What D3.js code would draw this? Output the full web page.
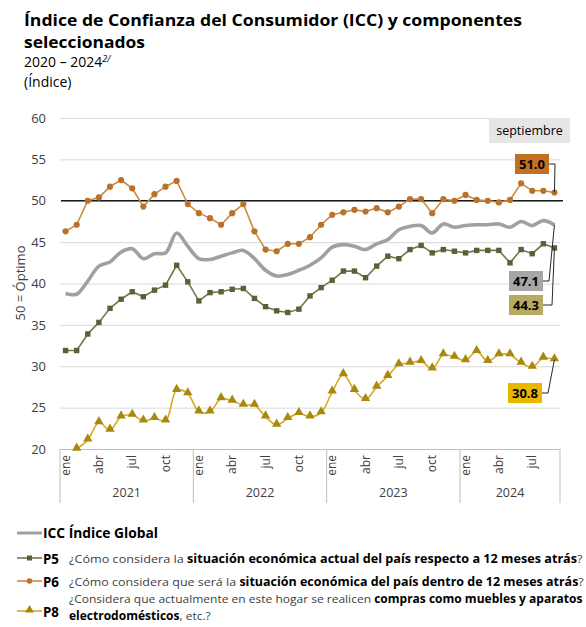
<!DOCTYPE html>
<meta charset="utf-8">
<script src="https://d3js.org/d3.v7.min.js"></script>
<style>
  body { margin: 0; background: #fff; }
  text { font-family: "Open Sans", "Noto Sans", sans-serif; }
</style>
<div id="chart"></div>
<script>
// data (monthly, ene 2021 - sep 2024)
var years = ["2021", "2022", "2023", "2024"]
var monthsInYear = [12, 12, 12, 9]
var monthNames = ["ene", "feb", "mar", "abr", "may", "jun", "jul", "ago", "sep", "oct", "nov", "dic"]
var shownMonths = ["ene", "abr", "jul", "oct"]
var yTicks = [20, 25, 30, 35, 40, 45, 50, 55, 60]

var icc = [38.8, 38.7, 40.3, 42.1, 42.6, 43.8, 44.2, 43.0, 43.6, 43.7, 46.1, 44.5,
           43.0, 42.9, 43.3, 43.7, 44.0, 43.0, 41.6, 40.9, 41.1, 41.6, 42.2, 43.1,
           44.4, 44.7, 44.5, 44.1, 44.8, 45.3, 46.5, 46.9, 47.0, 46.1, 47.2, 46.8,
           47.0, 47.1, 47.1, 47.2, 46.8, 47.5, 47.0, 47.6, 47.1]
var p5 = [31.9, 31.9, 33.9, 35.3, 37.0, 38.1, 39.0, 38.4, 39.2, 39.8, 42.2, 40.2,
          37.9, 38.9, 39.0, 39.3, 39.4, 38.2, 37.2, 36.7, 36.5, 36.9, 38.5, 39.5,
          40.4, 41.5, 41.5, 40.7, 42.1, 43.3, 43.0, 44.1, 44.6, 43.7, 44.1, 43.9,
          43.7, 44.0, 44.0, 44.0, 42.5, 44.1, 43.6, 44.8, 44.3]
var p6 = [46.3, 47.1, 50.0, 50.4, 51.7, 52.5, 51.5, 49.3, 50.8, 51.7, 52.4, 49.6,
          48.5, 47.9, 47.1, 48.5, 49.6, 46.3, 44.1, 43.9, 44.8, 44.8, 45.6, 47.1,
          48.3, 48.6, 48.9, 48.7, 49.1, 48.6, 49.3, 50.2, 50.2, 48.5, 50.2, 50.0,
          50.7, 50.1, 50.0, 49.8, 50.1, 52.1, 51.2, 51.2, 51.0]
var p8 = [null, 20.0, 21.1, 23.2, 22.3, 23.9, 24.1, 23.4, 23.7, 23.4, 27.1, 26.7,
          24.5, 24.5, 26.1, 25.8, 25.3, 25.3, 23.9, 22.9, 23.7, 24.3, 23.9, 24.4,
          26.9, 29.0, 27.1, 26.0, 27.5, 28.8, 30.2, 30.4, 30.6, 29.7, 31.4, 31.1,
          30.7, 31.8, 30.6, 31.4, 31.4, 30.4, 29.9, 31.0, 30.8]

// month list
var periods = []
years.forEach(function(yr, k) {
    for (var m = 0; m < monthsInYear[k]; m++) periods.push({ year: yr, month: monthNames[m] })
})

var width = 586, height = 627
var svg = d3.select("#chart").append("svg")
    .attr("width", width).attr("height", height)

// titles
var title = svg.append("g")
title.append("text").attr("x", 24).attr("y", 26)
    .attr("font-size", 16.5).attr("font-weight", "bold").attr("fill", "#000")
    .attr("textLength", 498).attr("lengthAdjust", "spacingAndGlyphs")
    .text("Índice de Confianza del Consumidor (ICC) y componentes")
title.append("text").attr("x", 24).attr("y", 48)
    .attr("font-size", 16.5).attr("font-weight", "bold").attr("fill", "#000")
    .attr("textLength", 121).attr("lengthAdjust", "spacingAndGlyphs")
    .text("seleccionados")
var sub = title.append("text").attr("x", 24).attr("y", 67)
    .attr("font-size", 14).attr("fill", "#000")
sub.append("tspan").text("2020 – 2024")
sub.append("tspan").attr("font-size", 9).attr("dy", -5).attr("font-style", "italic").text("2/")
title.append("text").attr("x", 24).attr("y", 87)
    .attr("font-size", 14).attr("fill", "#000").text("(Índice)")

// scales
var x = d3.scaleBand().domain(d3.range(periods.length)).range([60, 560])
var y = d3.scaleLinear().domain([20, 60]).range([449, 118])
var cx = function(i) { return x(i) + x.bandwidth() / 2 }

// y axis + grid
var yAxis = svg.append("g").attr("transform", "translate(60,0)")
    .call(d3.axisLeft(y).tickValues(yTicks).tickSizeInner(-500).tickSizeOuter(0).tickPadding(14))
yAxis.select(".domain").remove()
yAxis.selectAll("line").attr("stroke", "#d9d9d9").attr("stroke-width", 1)
yAxis.selectAll("text").attr("font-size", 13).attr("fill", "#404040")
    .attr("font-family", "Open Sans, sans-serif")

svg.append("text")
    .attr("transform", "translate(25,283) rotate(-90)")
    .attr("text-anchor", "middle").attr("font-size", 13).attr("fill", "#404040")
    .text("50 = Óptimo")

// 50 reference line
svg.append("line").attr("x1", 61).attr("x2", 563)
    .attr("y1", y(50)).attr("y2", y(50))
    .attr("stroke", "#1a1a1a").attr("stroke-width", 1.3)

// x axis: months
var xAxis = svg.append("g").attr("transform", "translate(0,449)")
    .call(d3.axisBottom(x)
        .tickValues(d3.range(periods.length).filter(function(i) { return shownMonths.indexOf(periods[i].month) >= 0 }))
        .tickFormat(function(i) { return periods[i].month })
        .tickSize(0).tickSizeOuter(0))
xAxis.select(".domain").attr("stroke", "#bfbfbf")
xAxis.selectAll("text")
    .attr("font-size", 12).attr("fill", "#404040").attr("font-family", "Open Sans, sans-serif")
    .attr("transform", "rotate(-90)").attr("text-anchor", "end")
    .attr("x", -6).attr("y", 0).attr("dy", "0.35em")

// year blocks
var start = 0
years.forEach(function(yr, k) {
    var a = x(start), b = start + monthsInYear[k] < periods.length ? x(start + monthsInYear[k]) : x.range()[1]
    svg.append("line").attr("x1", a).attr("x2", a).attr("y1", 449).attr("y2", 503)
        .attr("stroke", "#bfbfbf")
    if (k == years.length - 1)
        svg.append("line").attr("x1", b).attr("x2", b).attr("y1", 449).attr("y2", 503)
            .attr("stroke", "#bfbfbf")
    svg.append("text").attr("x", (a + b) / 2).attr("y", 497)
        .attr("text-anchor", "middle").attr("font-size", 12.5).attr("fill", "#404040")
        .text(yr)
    start += monthsInYear[k]
})

// lines
var straight = d3.line().defined(function(d) { return d != null })
    .x(function(d, i) { return cx(i) }).y(function(d) { return y(d) })
var smooth = d3.line().defined(function(d) { return d != null })
    .x(function(d, i) { return cx(i) }).y(function(d) { return y(d) })
    .curve(d3.curveCatmullRom.alpha(0.5))

svg.append("path").datum(p8).attr("d", smooth)
    .attr("fill", "none").attr("stroke", "#d4ab22").attr("stroke-width", 1.6)
svg.append("path").datum(p5).attr("d", straight)
    .attr("fill", "none").attr("stroke", "#76764c").attr("stroke-width", 1.6)
svg.append("path").datum(p6).attr("d", straight)
    .attr("fill", "none").attr("stroke", "#cd8a3e").attr("stroke-width", 1.6)
svg.append("path").datum(icc).attr("d", smooth)
    .attr("fill", "none").attr("stroke", "#a0a0a0").attr("stroke-width", 3.6)

// markers
var p8pts = p8.map(function(v, i) { return { v: v, i: i } }).filter(function(d) { return d.v != null })
svg.append("g").selectAll("path").data(p8pts).enter().append("path")
    .attr("d", d3.symbol().type(d3.symbolTriangle).size(38))
    .attr("transform", function(d) { return "translate(" + cx(d.i) + "," + (y(d.v) - 1) + ")" })
    .attr("fill", "#a8880f")
svg.append("g").selectAll("rect").data(p5).enter().append("rect")
    .attr("x", function(d, i) { return cx(i) - 2.7 }).attr("y", function(d) { return y(d) - 2.7 })
    .attr("width", 5.4).attr("height", 5.4).attr("fill", "#5e5e37")
svg.append("g").selectAll("circle").data(p6).enter().append("circle")
    .attr("cx", function(d, i) { return cx(i) }).attr("cy", function(d) { return y(d) })
    .attr("r", 3.1).attr("fill", "#b8722a")

// "septiembre" tag
svg.append("rect").attr("x", 489).attr("y", 118).attr("width", 81).attr("height", 25).attr("fill", "#e7e6e6")
svg.append("text").attr("x", 529.5).attr("y", 135).attr("text-anchor", "middle")
    .attr("font-size", 12.5).attr("fill", "#000").text("septiembre")

// end labels with leader lines
var last = periods.length - 1
var endLabels = [
    { v: p6[last], fill: "#c56f22", bx: 515, by: 154, elbow: 555 },
    { v: icc[last], fill: "#a6a6a6", bx: 509, by: 271, elbow: 549 },
    { v: p5[last], fill: "#b8aa62", bx: 509, by: 295, elbow: 552 },
    { v: p8[last], fill: "#e9b600", bx: 508, by: 383, elbow: 548 }
]
endLabels.forEach(function(l) {
    var mid = l.by + 10
    svg.append("path")
        .attr("d", "M" + (l.bx + 34) + "," + mid + "H" + l.elbow + "L" + cx(last) + "," + y(l.v))
        .attr("fill", "none").attr("stroke", "#262626").attr("stroke-width", 1)
    svg.append("rect").attr("x", l.bx).attr("y", l.by).attr("width", 34).attr("height", 20)
        .attr("fill", l.fill)
    svg.append("text").attr("x", l.bx + 17).attr("y", mid + 5).attr("text-anchor", "middle")
        .attr("font-size", 13).attr("font-weight", "bold").attr("fill", "#000")
        .text(d3.format(".1f")(l.v))
})

// legend
var lg = svg.append("g")
lg.append("line").attr("x1", 17).attr("x2", 42).attr("y1", 533).attr("y2", 533)
    .attr("stroke", "#a0a0a0").attr("stroke-width", 3)
lg.append("text").attr("x", 43).attr("y", 538).attr("font-size", 14).attr("font-weight", "bold")
    .attr("textLength", 115).attr("lengthAdjust", "spacingAndGlyphs").text("ICC Índice Global")

var legendRows = [
    { key: "P5", y: 558, color: "#76764c", mark: "#5e5e37", shape: "square",
      lines: [[["¿Cómo considera la ", false], ["situación económica actual del país respecto a 12 meses atrás", true], ["?", false]]],
      right: 583 },
    { key: "P6", y: 581, color: "#cd8a3e", mark: "#b8722a", shape: "circle",
      lines: [[["¿Cómo considera que será la ", false], ["situación económica del país dentro de 12 meses atrás", true], ["?", false]]],
      right: 584 },
    { key: "P8", y: 611, color: "#d4ab22", mark: "#a8880f", shape: "triangle",
      lines: [[["¿Considera que actualmente en este hogar se realicen ", false], ["compras como muebles y aparatos", true]],
              [["electrodomésticos", true], [", etc.?", false]]],
      right: 583 }
]
var lineY = { P5: [563], P6: [586], P8: [603, 620] }
legendRows.forEach(function(r) {
    lg.append("line").attr("x1", 17).attr("x2", 42).attr("y1", r.y).attr("y2", r.y)
        .attr("stroke", r.color).attr("stroke-width", 1.6)
    if (r.shape == "square")
        lg.append("rect").attr("x", 27).attr("y", r.y - 2.5).attr("width", 5).attr("height", 5).attr("fill", r.mark)
    else if (r.shape == "circle")
        lg.append("circle").attr("cx", 29.5).attr("cy", r.y).attr("r", 2.8).attr("fill", r.mark)
    else
        lg.append("path").attr("d", d3.symbol().type(d3.symbolTriangle).size(34))
            .attr("transform", "translate(29.5," + (r.y - 1) + ")").attr("fill", r.mark)
    lg.append("text").attr("x", 43).attr("y", r.y + 6).attr("font-size", 14.5).attr("font-weight", "bold")
        .attr("textLength", 16).attr("lengthAdjust", "spacingAndGlyphs")
        .text(r.key)
    var sx = null
    r.lines.forEach(function(parts, j) {
        var t = lg.append("text").attr("font-size", 11.5).attr("fill", "#262626")
        parts.forEach(function(p) {
            t.append("tspan").attr("font-weight", p[1] ? "bold" : null)
                .attr("fill", p[1] ? "#000" : "#404040").text(p[0])
        })
        // squeeze horizontally so the first line fits between x=69 and the right edge
        if (sx == null) sx = (r.right - 69) / t.node().getComputedTextLength()
        t.attr("transform", "translate(69," + lineY[r.key][j] + ") scale(" + sx + ",1)")
    })
})
</script>
